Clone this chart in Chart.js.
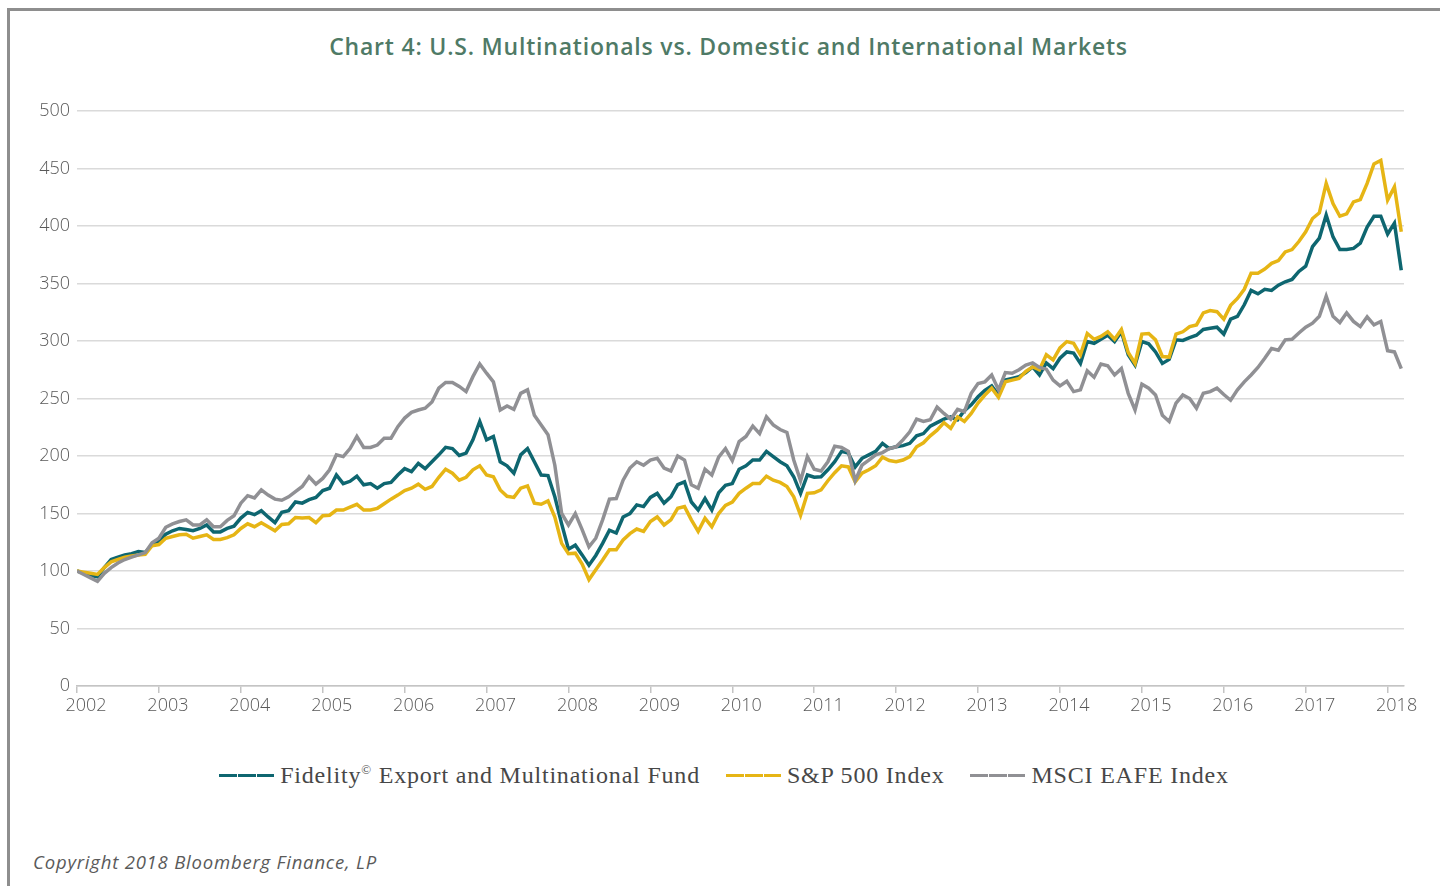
<!DOCTYPE html>
<html lang="en">
<head>
<meta charset="UTF-8" />
<title>Chart 4</title>
<script src="https://cdn.jsdelivr.net/npm/chart.js"></script>
<style>
  html, body { margin: 0; padding: 0; background: #fff; }
  body { width: 1440px; height: 886px; position: relative; overflow: hidden; }
  .frame { position: absolute; left: 7px; top: 8px; right: 0; bottom: 0;
           border-left: 3px solid #8e8e8e; border-top: 3px solid #8e8e8e; }
  .title { position: absolute; left: 0; top: 30px; width: 1457px; text-align: center;
           font-family: "Open Sans", sans-serif; font-size: 23px; font-weight: 600;
           letter-spacing: 0.8px; color: #4f7a66; }
  #wrap { position: absolute; left: 0; top: 0; width: 1440px; height: 730px; }
  .legend { position: absolute; left: 0; top: 762px; width: 1448px; display: flex; justify-content: center;
            font-family: "Liberation Serif", serif; font-size: 24px; letter-spacing: 0.8px; color: #474747; }
  .legend .item { display: flex; align-items: center; margin: 0 13px; white-space: nowrap; }
  .legend .sw { display: inline-block; width: 55px; height: 3px; margin-right: 6px;
                background: repeating-linear-gradient(to right, var(--c) 0 18px, rgba(255,255,255,0.35) 18px 19px); }
  .legend sup { font-size: 13px; vertical-align: 9px; }
  .foot { position: absolute; left: 33px; top: 849px; font-family: "Open Sans", sans-serif;
          font-style: italic; font-size: 18.5px; letter-spacing: 0.8px; color: #5a5a5a; }
</style>
</head>
<body>
  <div class="frame"></div>
  <div class="title">Chart 4: U.S. Multinationals vs. Domestic and International Markets</div>
  <div id="wrap"><canvas id="chart" width="1440" height="730"></canvas></div>
  <div class="legend" id="legend"></div>
  <div class="foot">Copyright 2018 Bloomberg Finance, LP</div>

<script>
  // monthly index values, Jan 2002 = 100
  const yearTicks = [2002, 2003, 2004, 2005, 2006, 2007, 2008, 2009, 2010, 2011, 2012, 2013, 2014, 2015, 2016, 2017, 2018];
  const seriesNames = ['Fidelity© Export and Multinational Fund', 'S&P 500 Index', 'MSCI EAFE Index'];
  const seriesColors = ['#0e6670', '#e6b515', '#909094'];

  const fidelity = [
    100, 98, 96, 95, 103, 110, 112, 114, 115, 117, 116, 123,
    126, 132, 135, 137, 136, 135, 137, 140, 134, 134, 137, 139,
    146, 151, 149, 152.5, 147, 142, 151, 152.5, 160, 159, 162, 164,
    170, 172, 183.5, 176, 178, 182.5, 175, 176, 172, 176, 177, 183.5,
    189, 186.5, 193.5, 189, 195, 201, 207.5, 206.5, 200.5, 202.5, 214, 230,
    214, 217, 195, 191.5, 185, 201, 206.5, 195, 183.5, 183, 164.5, 141,
    119, 122.5, 114, 105, 113.5, 124, 135.5, 133, 147, 150, 157.5, 156,
    164, 167.5, 159, 164.5, 175, 177.5, 160, 153, 163, 153, 168, 174.5,
    176, 188.5, 191.5, 196.5, 196.5, 204, 199.5, 195, 191.5, 182, 167.5, 183.5,
    181.5, 182, 188, 195, 204, 202.5, 190.5, 198, 201, 204, 211, 206.5,
    208, 209, 211, 217.5, 219.5, 226, 229, 232, 234, 231.5, 239.5, 244.5,
    251.5, 257, 261, 253, 266, 267.5, 269, 272.5, 277.5, 270.5, 281, 276,
    285, 290.5, 289.5, 280.5, 299.5, 298, 301.5, 305, 299.5, 308, 288, 279,
    299.5, 297.5, 290.5, 280.5, 284, 301, 300.5, 303, 305, 310, 311, 312,
    306, 319, 321.5, 331.5, 344, 341, 345, 344, 348.5, 351.5, 353.5, 360.5,
    365, 382, 389.5, 409.5, 390.5, 379.5, 379.5, 380.5, 385, 399, 408.5, 408.5,
    393, 402.5, 361.5
  ];

  const sp500 = [
    100, 99, 98, 97, 103, 108, 110, 112, 113, 114, 114.5, 122,
    123, 128.5, 130, 131.5, 132, 128.5, 130, 131.5, 127.5, 127.5, 129, 131.5,
    137, 141, 138.5, 142, 138.5, 135, 140.5, 141, 146.5, 146, 146.5, 142,
    148, 148.5, 153, 153, 155.5, 158, 153, 153, 154.5, 158.5, 162.5, 166,
    170, 172, 175.5, 171, 173.5, 181.5, 188.5, 185, 179, 181.5, 188, 191.5,
    183.5, 182, 170.5, 165, 164, 172, 174, 159, 158, 161, 147, 124,
    115, 115.5, 106, 92.5, 101, 109.5, 118.5, 118.5, 127, 132.5, 136.5, 134.5,
    143, 147, 140, 144.5, 154.5, 156, 144.5, 134.5, 146, 138.5, 150, 157,
    160, 167.5, 172, 176, 176, 182.5, 179, 177, 173.5, 164.5, 148.5, 167.5,
    168, 170.5, 178.5, 185.5, 191.5, 190.5, 177.5, 185, 188, 191.5, 199, 196,
    195, 196.5, 199.5, 208, 211.5, 217.5, 222.5, 229, 224, 234, 230, 237,
    246, 253, 259, 251, 264.5, 266, 267.5, 273.5, 277.5, 275, 288, 283.5,
    294, 299.5, 298, 288, 306.5, 301.5, 304, 308, 301.5, 310, 290, 280.5,
    306, 306.5, 301, 286.5, 286, 306, 308, 312.5, 314, 324.5, 326.5, 325.5,
    319, 331, 337, 345, 359, 359, 362.5, 367.5, 370, 377.5, 379.5, 386.5,
    395, 406.5, 411.5, 437, 419.5, 408.5, 410.5, 421, 423, 437, 454, 457,
    422.5, 434, 395
  ];

  const eafe = [
    100, 97, 94, 91, 98, 103, 107, 110, 112, 114, 116, 124.5,
    128.5, 138, 141, 143, 144.5, 140, 140, 144.5, 138.5, 138.5, 144, 148,
    159, 165.5, 163.5, 170.5, 166, 162.5, 161.5, 164.5, 169, 173.5, 182, 175.5,
    180.5, 188, 201, 199.5, 206.5, 217, 207.5, 207.5, 209.5, 215.5, 215.5, 225.5,
    233, 238, 240, 241.5, 247, 259, 264, 264, 260.5, 256, 269, 280,
    272, 264.5, 240, 243.5, 240.5, 254.5, 257.5, 235.5, 227, 218.5, 192, 150,
    140, 150, 136, 121, 128.5, 144.5, 162.5, 163, 179, 189.5, 195, 192,
    196.5, 198, 189.5, 187, 200, 196.5, 175, 172, 188.5, 183.5, 199, 206.5,
    196, 212.5, 217, 226, 219.5, 234, 227, 223, 220.5, 196.5, 178.5, 199.5,
    188.5, 187, 195, 208.5, 207.5, 204, 178.5, 192, 196.5, 201, 203, 206.5,
    208, 214, 221, 232, 230, 231.5, 242.5, 237, 232, 240.5, 238.5, 254.5,
    263, 264.5, 270.5, 257.5, 272.5, 272, 275, 279, 281, 277, 275.5, 266,
    261, 265, 256, 257.5, 274, 268.5, 280, 278.5, 270.5, 276, 254.5, 240,
    262.5, 259, 253, 235.5, 230, 246, 253, 250, 241.5, 254.5, 256, 259,
    253.5, 248.5, 257.5, 264.5, 270.5, 277, 285, 293.5, 292, 301, 301.5, 307,
    312, 315.5, 321.5, 339, 321.5, 316, 324.5, 317, 312.5, 321, 314, 317,
    291.5, 290.5, 276
  ];

  const seriesData = [fidelity, sp500, eafe];
  const lastMonth = fidelity.length - 1;

  // html legend (needs the superscript ©)
  const legendEl = document.getElementById('legend');
  seriesNames.forEach((name, i) => {
    const item = document.createElement('span');
    item.className = 'item';
    const sw = document.createElement('i');
    sw.className = 'sw';
    sw.style.setProperty('--c', seriesColors[i]);
    item.appendChild(sw);
    const txt = document.createElement('span');
    txt.innerHTML = name.replace('&', '&amp;').replace('©', '<sup>©</sup>');
    item.appendChild(txt);
    legendEl.appendChild(item);
  });

  const datasets = seriesData.map((vals, i) => ({
    label: seriesNames[i],
    data: vals.map((v, m) => ({ x: m, y: v })),
    borderColor: seriesColors[i],
    backgroundColor: seriesColors[i],
    borderWidth: 3.5,
    pointRadius: 0,
    tension: 0,
    fill: false,
    order: 3 - i   // gray on top, teal underneath
  }));

  const tickFont = { family: '"Open Sans", sans-serif', size: 18, weight: 300 };

  new Chart(document.getElementById('chart').getContext('2d'), {
    type: 'line',
    data: { datasets },
    options: {
      responsive: false,
      animation: false,
      devicePixelRatio: 1,
      layout: { padding: { top: 111, right: 36, left: 0, bottom: 0 } },
      plugins: {
        legend: { display: false },
        tooltip: { enabled: false },
        title: { display: false }
      },
      scales: {
        x: {
          type: 'linear',
          min: 0,
          max: lastMonth + 0.4,
          afterFit: s => { s.height = 730 - 686; },
          grid: { drawOnChartArea: false, drawTicks: true, tickLength: 7, color: '#c4c4c4', lineWidth: 1.5 },
          border: { display: true, color: '#c4c4c4', width: 1.5 },
          ticks: {
            stepSize: 12,
            includeBounds: false,
            autoSkip: false,
            maxRotation: 0,
            padding: 2,
            labelOffset: 9,
            color: '#595959',
            font: tickFont,
            callback: v => yearTicks[v / 12]
          }
        },
        y: {
          min: 0,
          max: 500,
          afterFit: s => { s.width = 77; },
          grid: { color: '#dadada', lineWidth: 1.5, drawTicks: false },
          border: { display: false },
          ticks: { stepSize: 50, padding: 7, color: '#595959', font: tickFont }
        }
      }
    }
  });
</script>
</body>
</html>
